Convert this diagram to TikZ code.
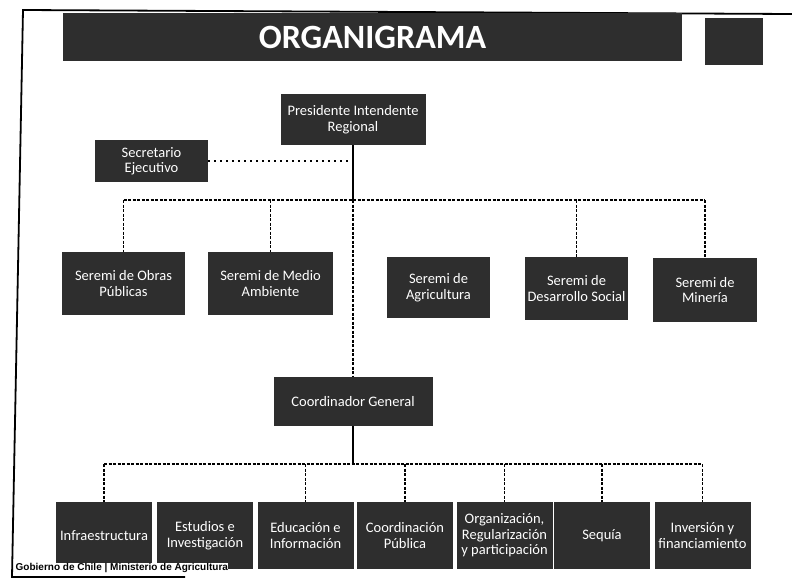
\documentclass[tikz,border=0pt]{standalone}
\usepackage{fontspec}
\newfontfamily\boxfont{Carlito}
\newfontfamily\footfont{Liberation Sans}

\begin{document}
\begin{tikzpicture}[x=1pt, y=-1pt,
  orgbox/.style={fill=black!82, text=white, align=center, inner sep=1pt,
    font=\boxfont\fontsize{14.5}{15.5}\selectfont},
  bus/.style={line width=1.2pt, dash pattern=on 3pt off 1.5pt},
  trunk/.style={line width=1.6pt}]
  % page 792 x 579 px, 1 px = 1 pt, y runs downwards
  \useasboundingbox (0,0) rectangle (792,579);

  % scanned page frame
  \draw[line width=1.8pt] (792,14) -- (23,10) -- (12,577) -- (185,577);

  % Title bar
  \node[fill=black!82, text=white, minimum width=619pt, minimum height=48pt,
    font=\boxfont\bfseries\fontsize{34}{34}\selectfont] (title) at (372.5,37) {ORGANIGRAMA};
  \node[fill=black!82, minimum width=58pt, minimum height=47pt] (logo) at (734,41.5) {};

  % Top level
  \node[orgbox, minimum width=145pt, minimum height=51pt] (pres) at (353,119.5) {Presidente Intendente\\Regional};
  \node[orgbox, minimum width=113pt, minimum height=42pt] (secr) at (151.5,161) {Secretario\\Ejecutivo};

  % Seremis
  \node[orgbox, minimum width=123pt, minimum height=63pt] (sObras) at (123.5,283.5) {Seremi de Obras\\Públicas};
  \node[orgbox, minimum width=125pt, minimum height=63pt] (sMedio) at (270.5,283.5) {Seremi de Medio\\Ambiente};
  \node[orgbox, minimum width=103pt, minimum height=61pt] (sAgri) at (438.5,287.5) {Seremi de\\Agricultura};
  \node[orgbox, minimum width=103pt, minimum height=63pt] (sSocial) at (576.5,288.5) {Seremi de\\Desarrollo Social};
  \node[orgbox, minimum width=104pt, minimum height=64pt] (sMineria) at (705,290) {Seremi de\\Minería};

  % Coordination
  \node[orgbox, minimum width=159pt, minimum height=49pt] (coord) at (353,401.5) {Coordinador General};

  % Bottom row
  \foreach \x/\name/\txt in {104/infra/Infraestructura, 205/estud/{Estudios e\\Investigación},
      305.5/educ/{Educación e\\Información}, 405/cpub/{Coordinación\\Pública},
      504.5/organ/{Organización,\\Regularización\\y participación}, 602/sequia/Sequía,
      702.5/inver/{Inversión y\\financiamiento}} {
    \node[orgbox, minimum width=96pt, minimum height=67pt] (\name) at (\x,535.5) {\txt};
  }

  % Connectors, upper part
  \coordinate (upbus) at (353,200);
  \draw[trunk] (pres.south) -- (upbus);
  \draw[line width=1.2pt, dash pattern=on 2pt off 4pt] (secr.east) -- (secr.east -| upbus);
  \draw[bus] (sObras.north |- upbus) -- (sMineria.north |- upbus);
  \foreach \name in {sObras, sMedio, sSocial, sMineria} {
    \draw[bus] (\name.north |- upbus) -- (\name.north);
  }
  \draw[bus] (upbus) -- (coord.north);

  % Connectors, lower part
  \coordinate (lowbus) at (353,464);
  \draw[trunk] (coord.south) -- (lowbus);
  \draw[bus] (infra.north |- lowbus) -- (inver.north |- lowbus);
  \foreach \name in {infra, educ, cpub, organ, sequia, inver} {
    \draw[bus] (\name.north |- lowbus) -- (\name.north);
  }

  % Footer
  \node[anchor=west, fill=white, inner sep=0.5pt, font=\footfont\bfseries\fontsize{10}{10}\selectfont] (footer) at (15,568)
    {Gobierno de Chile | Ministerio de Agricultura};
\end{tikzpicture}
\end{document}
